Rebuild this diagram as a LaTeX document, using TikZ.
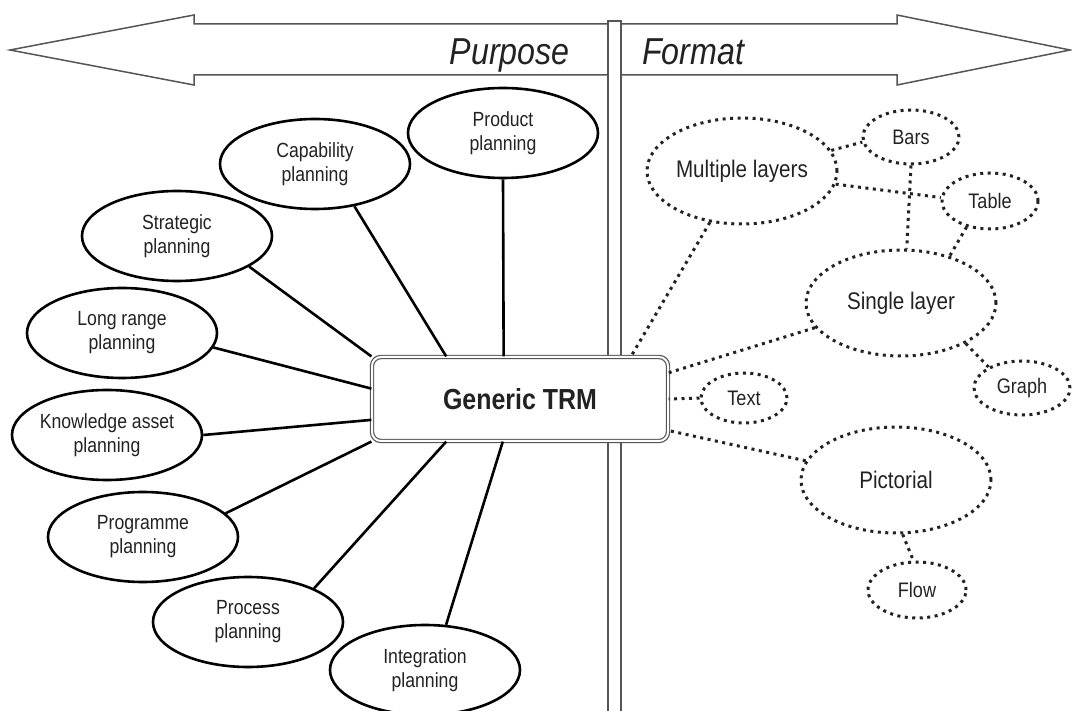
\documentclass[tikz,border=0pt]{standalone}
\usepackage{fontspec}
\usepackage{tikz}
\usetikzlibrary{shapes.geometric}
\newfontfamily\narrow{Liberation Sans}[FakeStretch=0.86]
\definecolor{inkgray}{HTML}{222222}
\definecolor{framegray}{HTML}{555555}

\tikzset{
    planell/.style={ellipse, draw=black, line width=2.6pt, fill=white, inner sep=0pt,
        minimum width=190pt, minimum height=90pt, align=center, text=inkgray,
        font=\narrow\fontsize{20.5}{24}\selectfont},
    spoke/.style={black, line width=2.6pt},
    dotline/.style={draw=inkgray, line width=3pt, dash pattern=on 3pt off 4.5pt},
    fmtbig/.style={ellipse, dotline, inner sep=0pt, minimum width=190pt, minimum height=106pt,
        text=inkgray, font=\narrow\fontsize{24}{28}\selectfont},
    fmtsmall/.style={ellipse, dotline, inner sep=0pt, minimum width=96pt, minimum height=54pt,
        text=inkgray, font=\narrow\fontsize{21}{24}\selectfont},
    trmbox/.style={rectangle, rounded corners=9pt, draw=framegray, double=white,
        double distance=2pt, line width=1.2pt, fill=white, minimum width=296pt,
        minimum height=84pt, text=inkgray, font=\narrow\bfseries\fontsize{29}{34}\selectfont},
    heading/.style={text=inkgray, inner sep=0pt, font=\narrow\itshape\fontsize{37.5}{40}\selectfont}
}

\begin{document}
\begin{tikzpicture}[x=1pt, y=-1pt]
    \useasboundingbox (0,0) rectangle (1072,711);
    % double-headed arrow and divider
    \draw[framegray, line width=1.5pt, fill=white] (10,50) -- (194,15) -- (194,24) -- (897,24)
        -- (897,15) -- (1070,50) -- (897,85) -- (897,75) -- (194,75) -- (194,85) -- cycle;
    \draw[framegray, line width=1.2pt, fill=white] (608,21) rectangle (621,716);
    \node[heading, anchor=base east] (purpose) at (570,65) {Purpose};
    \node[heading, anchor=base west] (format) at (642,65) {Format};

    \node[trmbox] (trm) at (520,399) {Generic TRM};

    % purpose side
    \foreach \nm/\px/\py/\txt in {prod/503/133/{Product\\planning}, cap/315/164/{Capability\\planning},
        strat/177/236/{Strategic\\planning}, lrange/122/333/{Long range\\planning},
        know/107/435/{Knowledge asset\\planning}, prog/143/537/{Programme\\planning},
        proc/248/622/{Process\\planning}, integ/425/670/{Integration\\planning}} {
        \node[planell] (\nm) at (\px,\py) {\txt};
    }
    \foreach \a/\b in {prod.south/trm.111, cap.313/trm.150, strat.337/trm.north west,
        lrange.351/trm.176, know.east/trm.188, prog.16/trm.south west,
        proc.27/trm.210, integ.65/trm.248} {
        \draw[spoke] (\a) -- (\b);
    }

    % format side
    \node[fmtbig] (multi) at (742,171) {Multiple layers};
    \node[fmtbig] (single) at (901,303) {Single layer};
    \node[fmtbig] (pict) at (896,480) {Pictorial};
    \node[fmtsmall] (bars) at (911,137) {Bars};
    \node[fmtsmall, minimum height=56pt] (table) at (990,201) {Table};
    \node[fmtsmall] (graph) at (1022,388) {Graph};
    \node[fmtsmall, minimum width=86pt, minimum height=50pt] (txt) at (744,398) {Text};
    \node[fmtsmall, minimum width=98pt, minimum height=56pt] (flow) at (917,590) {Flow};

    \foreach \a/\b in {multi.238/trm.21, single.196/trm.10, txt.west/trm.east, pict.168/trm.348,
        multi.13/bars.186, multi.352/table.176, bars.south/single.84, table.228/single.44,
        single.328/graph.148, pict.277/flow.97} {
        \draw[dotline] (\a) -- (\b);
    }
\end{tikzpicture}
\end{document}
